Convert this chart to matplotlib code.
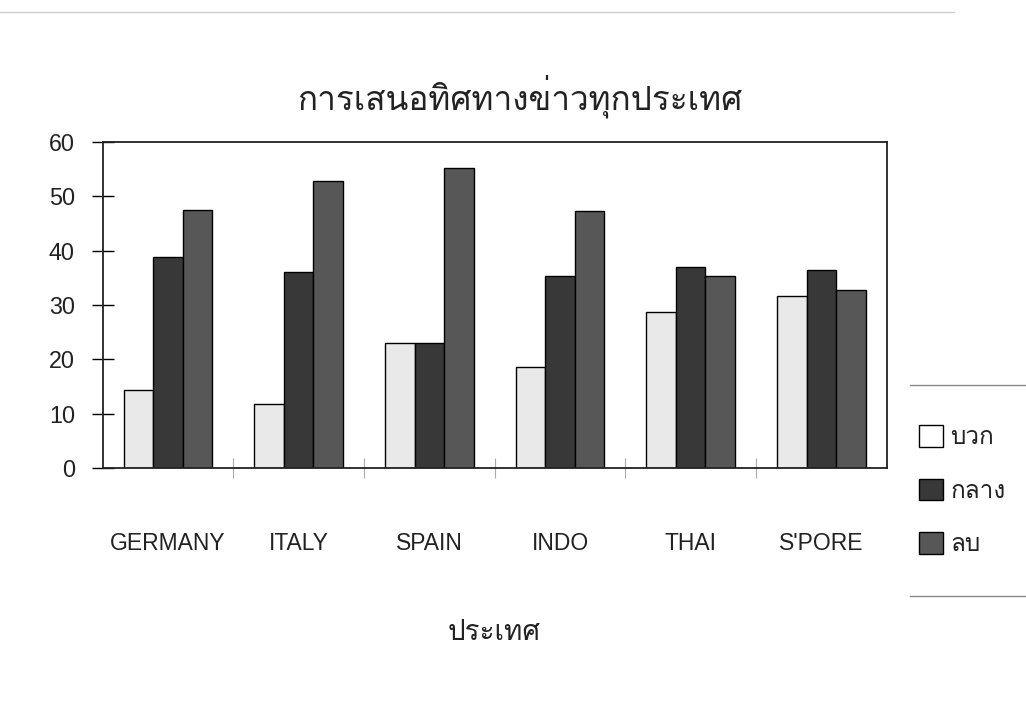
"""
Bar chart: news direction by country (positive / neutral / negative).
"""
import matplotlib
matplotlib.use("Agg")
import matplotlib.pyplot as plt
import numpy as np
from matplotlib.lines import Line2D

# data
countries = ["GERMANY", "ITALY", "SPAIN", "INDO", "THAI", "S'PORE"]
series_names = ["บวก", "กลาง", "ลบ"]
positive = [14.4, 11.8, 23.1, 18.7, 28.7, 31.7]
neutral = [38.9, 36.0, 23.1, 35.4, 36.9, 36.4]
negative = [47.5, 52.8, 55.1, 47.3, 35.4, 32.8]
y_ticks = [0, 10, 20, 30, 40, 50, 60]

title_text = "การเสนอทิศทางข่าวทุกประเทศ"
xlabel_text = "ประเทศ"

THAI = ["Loma", "DejaVu Sans"]
LATIN = ["Liberation Sans", "DejaVu Sans"]

colors = ["#e9e9e9", "#383838", "#575757"]

fig = plt.figure(figsize=(10.26, 7.01), dpi=100)
ax = fig.add_axes([0.1001, 0.332, 0.7641, 0.4658])

x = np.arange(len(countries))
w = 0.226
for i, (vals, c) in enumerate(zip([positive, neutral, negative], colors)):
    ax.bar(x + (i - 1) * w, vals, width=w, color=c, edgecolor="black",
           linewidth=1.0, label=series_names[i])

ax.set_xlim(-0.5, len(countries) - 0.5)
ax.set_ylim(0, 60)
ax.set_yticks(y_ticks)
ax.set_yticklabels([str(v) for v in y_ticks], family=LATIN, fontsize=16.8, color="#222222")
ax.tick_params(axis="y", direction="inout", length=16, width=1.0, pad=12)

ax.set_xticks(x)
ax.set_xticklabels(countries, family=LATIN, fontsize=16.5, color="#222222")
ax.tick_params(axis="x", which="major", length=0, pad=46)
ax.set_xticks(x[:-1] + 0.5, minor=True)
ax.tick_params(axis="x", which="minor", direction="inout", length=14, width=0.8, color="#aaaaaa")

for s in ax.spines.values():
    s.set_linewidth(1.3)
    s.set_color("#222222")

fig.text(0.507, 0.862, title_text, family=THAI, fontsize=24, ha="center", va="center",
         color="#222222")
fig.text(0.4815, 0.097, xlabel_text, family=THAI, fontsize=20, ha="center", va="center",
         color="#222222")

# legend outside on the right, with rules above and below
handles, labels = ax.get_legend_handles_labels()
leg = fig.legend(handles, labels, loc="center left", bbox_to_anchor=(0.874, 0.300),
                 frameon=False, prop={"family": THAI, "size": 17.5}, labelspacing=1.2,
                 handlelength=1.0, handleheight=1.0, handletextpad=0.3)
for t in leg.get_texts():
    t.set_color("#222222")
leg.legend_handles[0].set_facecolor("white")

for yy in (1 - 385 / 701, 1 - 596 / 701):
    fig.add_artist(Line2D([0.887, 1.0], [yy, yy], color="#888888", lw=1.0,
                          transform=fig.transFigure))
# faint scan rule along the top
fig.add_artist(Line2D([0.0, 0.93], [0.983, 0.983], color="#cccccc", lw=1.0,
                      transform=fig.transFigure))

fig.savefig("out.png", dpi=100)
